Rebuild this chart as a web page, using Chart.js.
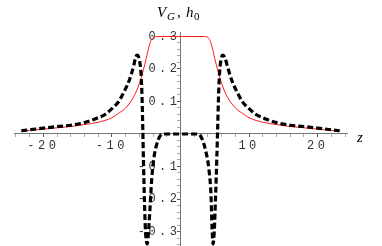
<!DOCTYPE html>
<html>
<head>
<meta charset="utf-8">
<script src="https://cdn.jsdelivr.net/npm/chart.js@4.4.1/dist/chart.umd.min.js"></script>
<style>
  html, body { margin: 0; padding: 0; background: #fff; }
  #wrap { width: 382px; height: 246px; }
</style>
</head>
<body>
<div id="wrap"><canvas id="c" width="382" height="246"></canvas></div>
<script>
// ===== DATA =====
// h0 (thin red)
const zH = [-23.2, -22, -20, -18, -16, -14, -12, -10, -9, -8, -7, -6.3, -5.8, -5.4, -5.0, -4.6, -4.3, -4.0, -3.5, 0,
            3.5, 4.0, 4.3, 4.6, 5.0, 5.4, 5.8, 6.3, 7, 8, 9, 10, 12, 14, 16, 18, 20, 22, 23.2];
const hVals = [0.009, 0.011, 0.015, 0.019, 0.023, 0.029, 0.036, 0.050, 0.064, 0.080, 0.108, 0.138, 0.168, 0.198, 0.232, 0.268, 0.288, 0.297, 0.300, 0.300,
               0.300, 0.297, 0.288, 0.268, 0.232, 0.198, 0.168, 0.138, 0.108, 0.080, 0.064, 0.050, 0.036, 0.029, 0.023, 0.019, 0.015, 0.011, 0.009];

// V_G (thick black dashed)
const zV = [-23.2, -22, -20, -18, -16, -14, -12, -11, -10, -9, -8.3, -7.7, -7.2, -6.8, -6.55, -6.3, -6.0, -5.75, -5.6, -5.5, -5.4, -5.25, -5.1, -4.85, -4.6, -4.45, -4.2, -3.85, -3.25, -2.6,
            0,
            2.6, 3.1, 3.65, 4.15, 4.45, 4.6, 4.75, 4.92, 5.1, 5.3, 5.42, 5.55, 5.7, 5.9, 6.15, 6.45, 6.8, 7.2, 7.7, 8.3, 9, 10, 11, 12, 14, 16, 18, 20, 22, 23.2];
const vVals = [0.010, 0.013, 0.018, 0.023, 0.027, 0.035, 0.050, 0.060, 0.078, 0.100, 0.127, 0.153, 0.182, 0.212, 0.236, 0.243, 0.228, 0.185, 0.110, 0.020, -0.080, -0.210, -0.300, -0.338, -0.280, -0.230, -0.140, -0.070, -0.018, 0.0,
               0.0,
               0.0, -0.013, -0.050, -0.110, -0.190, -0.290, -0.338, -0.300, -0.200, -0.070, 0.020, 0.120, 0.190, 0.228, 0.243, 0.236, 0.212, 0.182, 0.153, 0.127, 0.100, 0.078, 0.060, 0.050, 0.035, 0.027, 0.023, 0.018, 0.013, 0.010];

// ticks
const xMajor = [-20, -10, 10, 20];
const xTickLabels = ["-20", "-10", "10", "20"];
const yMajor = [-0.3, -0.2, -0.1, 0.1, 0.2, 0.3];
const yTickLabels = ["-0.3", "-0.2", "-0.1", "0.1", "0.2", "0.3"];
const xMinor = [];
for (let k = -12; k <= 12; k++) xMinor.push(k * 2);
const yMinor = [];
for (let k = -17; k <= 15; k++) yMinor.push(Math.round(k * 2) / 100);

// ===== HELPERS =====
const near = (a, b) => Math.abs(a - b) < 1e-6;
const majorIdx = (list, v) => list.findIndex(m => near(m, v));
const pts = (xs, ys) => xs.map((x, i) => ({ x, y: ys[i] }));

const tickFont = { family: "'Liberation Mono', monospace", size: 12 };

// axes sit inside the plot, so they take no room in the layout
const noRoom = s => {
  if (s.isHorizontal()) s.height = 0; else s.width = 0;
  s.paddingTop = s.paddingBottom = s.paddingLeft = s.paddingRight = 0;
};

const spacing = {
  id: "spacing",
  beforeDraw(chart) { chart.ctx.letterSpacing = "3.5px"; }
};

const titles = {
  id: "titles",
  afterDraw(chart) {
    const ctx = chart.ctx;
    ctx.save();
    ctx.letterSpacing = "0px";
    ctx.fillStyle = "#000";
    ctx.textBaseline = "alphabetic";
    ctx.textAlign = "left";
    const big = "italic 15px 'Liberation Serif'";
    const sub = "italic 11px 'Liberation Serif'";
    ctx.font = big; ctx.fillText("V", 157, 17);
    ctx.font = sub; ctx.fillText("G", 167, 20);
    ctx.font = "15px 'Liberation Serif'"; ctx.fillText(",", 177, 17);
    ctx.font = big; ctx.fillText("h", 186, 17);
    ctx.font = "11px 'Liberation Serif'"; ctx.fillText("0", 194, 20);
    ctx.font = big; ctx.fillText("z", 357, 142);
    ctx.restore();
  }
};

new Chart(document.getElementById("c"), {
  type: "line",
  data: {
    datasets: [
      {
        label: "V_G",
        data: pts(zV, vVals),
        borderColor: "#000",
        borderWidth: 3.2,
        borderDash: [6, 3],
        pointRadius: 0,
        cubicInterpolationMode: "monotone",
        fill: false,
        order: 0
      },
      {
        label: "h0",
        data: pts(zH, hVals),
        borderColor: "#ff1a1a",
        borderWidth: 1,
        pointRadius: 0,
        cubicInterpolationMode: "monotone",
        fill: false,
        order: 1
      }
    ]
  },
  options: {
    responsive: false,
    animation: false,
    devicePixelRatio: 1,
    layout: { padding: { left: 14, right: 35, top: 32, bottom: 0 } },
    plugins: { legend: { display: false }, tooltip: { enabled: false } },
    scales: {
      x: {
        type: "linear",
        min: -24.27, max: 24.27,
        position: { y: 0 },
        afterFit: noRoom,
        afterBuildTicks: s => { s.ticks = xMinor.map(v => ({ value: v })); },
        grid: {
          drawOnChartArea: false, drawTicks: true, tickLength: 3,
          tickColor: c => majorIdx(xMajor, c.tick.value) >= 0 ? "#555" : "#aaa"
        },
        border: { display: true, color: "#777", width: 1 },
        ticks: {
          autoSkip: false, maxRotation: 0, padding: 2,
          font: tickFont, color: "#333",
          callback: v => { const i = majorIdx(xMajor, v); return i >= 0 ? xTickLabels[i] : ""; }
        }
      },
      y: {
        type: "linear",
        min: -0.3446, max: 0.3138,
        position: { x: 0 },
        afterFit: noRoom,
        afterBuildTicks: s => { s.ticks = yMinor.map(v => ({ value: v })); },
        grid: {
          drawOnChartArea: false, drawTicks: true, tickLength: 3,
          tickColor: c => majorIdx(yMajor, c.tick.value) >= 0 ? "#555" : "#aaa"
        },
        border: { display: true, color: "#777", width: 1 },
        ticks: {
          autoSkip: false, padding: -5,
          font: tickFont, color: "#333",
          callback: v => { const i = majorIdx(yMajor, v); return i >= 0 ? yTickLabels[i] : ""; }
        }
      }
    }
  },
  plugins: [spacing, titles]
});
</script>
</body>
</html>
